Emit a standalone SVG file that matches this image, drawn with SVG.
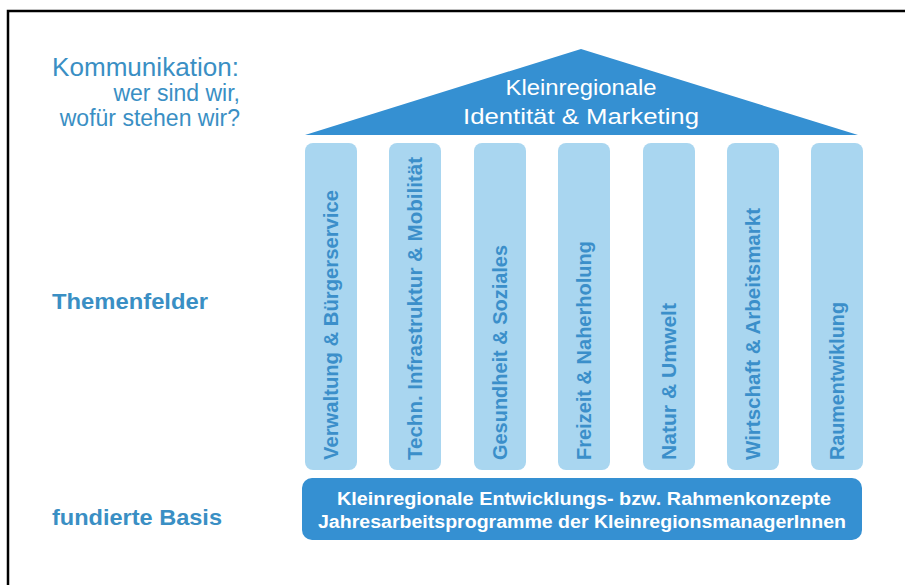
<svg xmlns="http://www.w3.org/2000/svg" width="905" height="585" viewBox="0 0 905 585">
<style>
.lbl{font-family:"Liberation Sans",Arial,sans-serif;fill:#3a8fc4}
.col{fill:#a9d6f0}
.coltxt{font-family:"Liberation Sans",Arial,sans-serif;font-size:20px;font-weight:bold;fill:#3b8fca}
.wt{font-family:"Liberation Sans",Arial,sans-serif;fill:#ffffff;text-anchor:middle}
</style>
<rect width="905" height="585" fill="#ffffff"/>
<g id="frame" stroke="#000000" stroke-width="2.5" fill="none">
<path d="M8 586 V11 H906"/>
</g>
<g id="labels">
<text class="lbl" x="52" y="76" font-size="25" textLength="187" lengthAdjust="spacingAndGlyphs" fill="#2f88bb">Kommunikation:</text>
<text class="lbl" x="240" y="101" font-size="23" text-anchor="end">wer sind wir,</text>
<text class="lbl" x="240" y="126" font-size="23" text-anchor="end">wofür stehen wir?</text>
<text class="lbl" x="52" y="309" font-size="22" font-weight="bold" textLength="156" lengthAdjust="spacingAndGlyphs">Themenfelder</text>
<text class="lbl" x="52" y="525" font-size="22" font-weight="bold" textLength="170" lengthAdjust="spacingAndGlyphs">fundierte Basis</text>
</g>
<g id="roof">
<polygon points="305,135 581,49 858,135" fill="#3590d2"/>
<text class="wt" x="581" y="95" font-size="22" textLength="151" lengthAdjust="spacingAndGlyphs">Kleinregionale</text>
<text class="wt" x="581" y="124" font-size="22" textLength="236" lengthAdjust="spacingAndGlyphs">Identität &amp; Marketing</text>
</g>
<g id="col1"><rect class="col" x="305" y="143" width="52" height="327" rx="8"/><text class="coltxt" transform="translate(338,460) rotate(-90)" textLength="270" lengthAdjust="spacingAndGlyphs">Verwaltung &amp; Bürgerservice</text></g>
<g id="col2"><rect class="col" x="389" y="143" width="52" height="327" rx="8"/><text class="coltxt" transform="translate(422,460) rotate(-90)" textLength="303" lengthAdjust="spacingAndGlyphs">Techn. Infrastruktur &amp; Mobilität</text></g>
<g id="col3"><rect class="col" x="474" y="143" width="52" height="327" rx="8"/><text class="coltxt" transform="translate(507,460) rotate(-90)" textLength="215" lengthAdjust="spacingAndGlyphs">Gesundheit &amp; Soziales</text></g>
<g id="col4"><rect class="col" x="558" y="143" width="52" height="327" rx="8"/><text class="coltxt" transform="translate(591,460) rotate(-90)">Freizeit &amp; Naherholung</text></g>
<g id="col5"><rect class="col" x="643" y="143" width="52" height="327" rx="8"/><text class="coltxt" transform="translate(676,460) rotate(-90)" textLength="157" lengthAdjust="spacingAndGlyphs">Natur &amp; Umwelt</text></g>
<g id="col6"><rect class="col" x="727" y="143" width="52" height="327" rx="8"/><text class="coltxt" transform="translate(760,460) rotate(-90)" textLength="252" lengthAdjust="spacingAndGlyphs">Wirtschaft &amp; Arbeitsmarkt</text></g>
<g id="col7"><rect class="col" x="811" y="143" width="52" height="327" rx="8"/><text class="coltxt" transform="translate(844,460) rotate(-90)" textLength="158" lengthAdjust="spacingAndGlyphs">Raumentwiklung</text></g>
<g id="base">
<rect x="302" y="478" width="560" height="62" rx="10" fill="#3590d2"/>
<text class="wt" x="584" y="505" font-size="18" font-weight="bold" textLength="494" lengthAdjust="spacingAndGlyphs">Kleinregionale Entwicklungs- bzw. Rahmenkonzepte</text>
<text class="wt" x="582" y="528" font-size="18" font-weight="bold" textLength="528" lengthAdjust="spacingAndGlyphs">Jahresarbeitsprogramme der KleinregionsmanagerInnen</text>
</g>
<g id="connectors"/>
</svg>
